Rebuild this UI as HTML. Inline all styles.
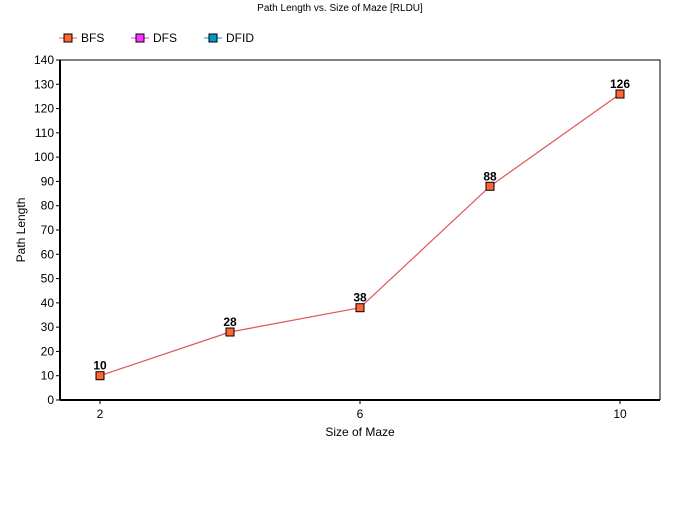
<!DOCTYPE html>
<html><head><meta charset="utf-8"><style>
body{margin:0;background:#fff;}
svg text{font-family:"Liberation Sans",sans-serif;}
</style></head><body>
<svg id="chart" width="680" height="500" xmlns="http://www.w3.org/2000/svg">
<text x="340" y="11" font-size="10" text-anchor="middle">Path Length vs. Size of Maze [RLDU]</text>
<g>
 <g><line x1="59" y1="38" x2="77" y2="38" stroke="#ff6633"/><rect x="64" y="34" width="8" height="8" fill="#ff6633" stroke="#000"/><text x="81" y="42" font-size="12">BFS</text></g>
 <g><line x1="131" y1="38" x2="149" y2="38" stroke="#ff33ff"/><rect x="136" y="34" width="8" height="8" fill="#ff33ff" stroke="#000"/><text x="153" y="42" font-size="12">DFS</text></g>
 <g><line x1="204" y1="38" x2="222" y2="38" stroke="#0099cc"/><rect x="209" y="34" width="8" height="8" fill="#0099cc" stroke="#000"/><text x="226" y="42" font-size="12">DFID</text></g>
</g>
<g id="axes"></g>
<g id="marks"></g>
<text x="360" y="436" font-size="12" text-anchor="middle">Size of Maze</text>
<text transform="translate(25,230) rotate(-90)" font-size="12" text-anchor="middle">Path Length</text>
</svg>
<script>
const xValues=[2,4,6,8,10];
const bfsValues=[10,28,38,88,126];
const yTicks=[0,10,20,30,40,50,60,70,80,90,100,110,120,130,140];
const xTicks=[2,6,10];
const NS="http://www.w3.org/2000/svg";
const L=60,R=660,T=60,B=400;
const xs=v=>100+(v-2)*(620-100)/8;
const ys=v=>B-(v/140)*(B-T);
function mk(tag,attrs,parent){const e=document.createElementNS(NS,tag);for(const k in attrs)e.setAttribute(k,attrs[k]);parent.appendChild(e);return e;}
const ax=document.getElementById('axes'),mg=document.getElementById('marks');
const frame=mk('path',{d:`M${L} ${T}H${R}V${B}`,fill:'none',stroke:'#000','stroke-width':1},ax);


const ya=mk('line',{x1:L,y1:T,x2:L,y2:B,stroke:'#000','stroke-width':2},ax);


const xa=mk('line',{x1:L,y1:B,x2:R,y2:B,stroke:'#000','stroke-width':2},ax);


yTicks.forEach(v=>{const y=ys(v);
 mk('line',{x1:L-4,y1:y,x2:L,y2:y,stroke:'#000'},ax);
 const t=mk('text',{x:L-6,y:y+4,'font-size':12,'text-anchor':'end'},ax);t.textContent=v;
 
 });
xTicks.forEach(v=>{const x=xs(v);
 mk('line',{x1:x,y1:B,x2:x,y2:B+4,stroke:'#000'},ax);
 const t=mk('text',{x:x,y:B+18,'font-size':12,'text-anchor':'middle'},ax);t.textContent=v;
 
 });
const line=mk('polyline',{points:xValues.map((x,i)=>xs(x)+','+ys(bfsValues[i])).join(' '),fill:'none',stroke:'#e05555','stroke-width':1.2},mg);


xValues.forEach((x,i)=>{const px=xs(x),py=ys(bfsValues[i]);
 const r=mk('rect',{x:px-4,y:py-4,width:8,height:8,fill:'#ff6633',stroke:'#000'},mg);
 
 
 const t=mk('text',{x:px,y:py-6,'font-size':12,'font-weight':'bold','text-anchor':'middle'},mg);t.textContent=bfsValues[i];
 
 });
</script>
</body></html>
